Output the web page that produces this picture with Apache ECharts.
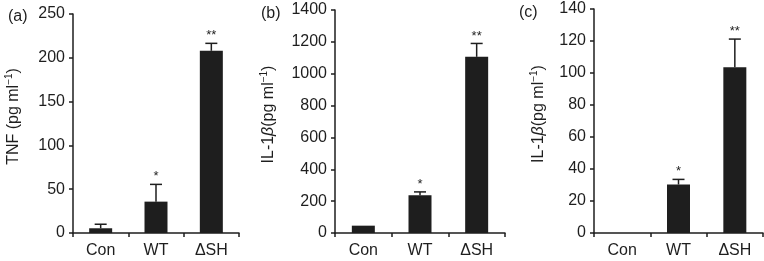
<!DOCTYPE html>
<html>
<head>
<meta charset="utf-8">
<script src="https://cdn.jsdelivr.net/npm/echarts@6/dist/echarts.min.js"></script>
<style>
  html, body { margin: 0; padding: 0; background: #fff; }
  #chart { width: 764px; height: 261px; }
</style>
</head>
<body>
<div id="chart"></div>
<script>
const categories = ['Con', 'WT', 'ΔSH']

// (a) TNF
const tnfMean = [5.4, 35.8, 208]
const tnfUpper = [10, 55.5, 216.5]
const tnfStars = ['', '*', '**']

// (b) IL-1β
const il1bMean = [46, 237, 1106]
const il1bUpper = [46, 258, 1190]
const il1bStars = ['', '*', '**']

// (c) IL-1β
const il1cMean = [0, 30.3, 103.6]
const il1cUpper = [0, 33.5, 121.2]
const il1cStars = ['', '*', '**']

const yMax = [250, 1400, 140]
const yStep = [50, 200, 20]

const FONT = '"Liberation Sans", Arial, sans-serif'
const INK = '#1e1e1e'

const chart = echarts.init(document.getElementById('chart'), null, { renderer: 'canvas' })

const grids = [
  { left: 73, top: 14, width: 166, height: 219 },
  { left: 335, top: 10, width: 170, height: 223 },
  { left: 594, top: 9, width: 169, height: 224 },
]

const yNames = [
  '{a|TNF (pg ml}{s|−1}{a|)}',
  '{a|IL-1}{i|β}{a|(pg ml}{s|−1}{a|)}',
  '{a|IL-1}{i|β}{a|(pg ml}{s|−1}{a|)}',
]
const nameGaps = [50, 57, 46]

const means = [tnfMean, il1bMean, il1cMean]
const uppers = [tnfUpper, il1bUpper, il1cUpper]
const stars = [tnfStars, il1bStars, il1cStars]

const nameRich = {
  a: { fontFamily: FONT, fontSize: 16, color: INK, lineHeight: 19 },
  i: { fontFamily: FONT, fontSize: 16, color: INK, fontStyle: 'italic', lineHeight: 19 },
  s: { fontFamily: FONT, fontSize: 10, color: INK, verticalAlign: 'top', lineHeight: 19, padding: [0, 0, 7, 0] },
}

const errorBars = (i) => ({
  type: 'custom',
  xAxisIndex: i,
  yAxisIndex: i,
  z: 5,
  data: categories.map((c, k) => [k, means[i][k], uppers[i][k], stars[i][k]]),
  renderItem: (params, api) => {
    const base = api.coord([api.value(0), api.value(1)])
    const top = api.coord([api.value(0), api.value(2)])
    const star = stars[i][params.dataIndex]
    const children = []
    if (base[1] - top[1] > 0.5) {
      children.push(
        { type: 'line', shape: { x1: top[0], y1: base[1], x2: top[0], y2: top[1] }, style: { stroke: INK, lineWidth: 1.5 } },
        { type: 'line', shape: { x1: top[0] - 6, y1: top[1], x2: top[0] + 6, y2: top[1] }, style: { stroke: INK, lineWidth: 1.5 } }
      )
    }
    if (star) {
      children.push({
        type: 'text',
        x: top[0], y: top[1] - 1,
        style: { text: star, fontFamily: FONT, fontSize: 13, fill: INK, align: 'center', verticalAlign: 'bottom' },
      })
    }
    return { type: 'group', children }
  },
})

const option = {
  animation: false,
  title: ['(a)', '(b)', '(c)'].map((t, i) => ({
    text: t,
    left: [3, 256, 514][i],
    top: [4, 1, 0][i],
    textStyle: { fontFamily: FONT, fontSize: 16, fontWeight: 'normal', color: INK },
  })),
  grid: grids,
  xAxis: grids.map((g, i) => ({
    type: 'category',
    gridIndex: i,
    data: categories,
    axisLine: { lineStyle: { color: INK, width: 1.5 } },
    axisTick: { show: true, length: 4, lineStyle: { color: INK, width: 1.5 } },
    axisLabel: { fontFamily: FONT, fontSize: 16, color: INK, margin: 10 },
  })),
  yAxis: grids.map((g, i) => ({
    type: 'value',
    gridIndex: i,
    min: 0,
    max: yMax[i],
    interval: yStep[i],
    name: yNames[i],
    nameLocation: 'middle',
    nameRotate: 90,
    nameGap: nameGaps[i],
    nameTextStyle: { rich: nameRich, padding: [0, 0, 0, 14] },
    splitLine: { show: false },
    axisLine: { show: true, lineStyle: { color: INK, width: 1.5 } },
    axisTick: { show: true, length: 4, lineStyle: { color: INK, width: 1.5 } },
    axisLabel: { fontFamily: FONT, fontSize: 16, color: INK, margin: 8, formatter: v => String(v) },
  })),
  series: [
    ...means.map((m, i) => ({
      type: 'bar',
      xAxisIndex: i,
      yAxisIndex: i,
      data: m,
      barWidth: 23,
      itemStyle: { color: INK },
    })),
    ...means.map((m, i) => errorBars(i)),
  ],
}

chart.setOption(option)
</script>
</body>
</html>
